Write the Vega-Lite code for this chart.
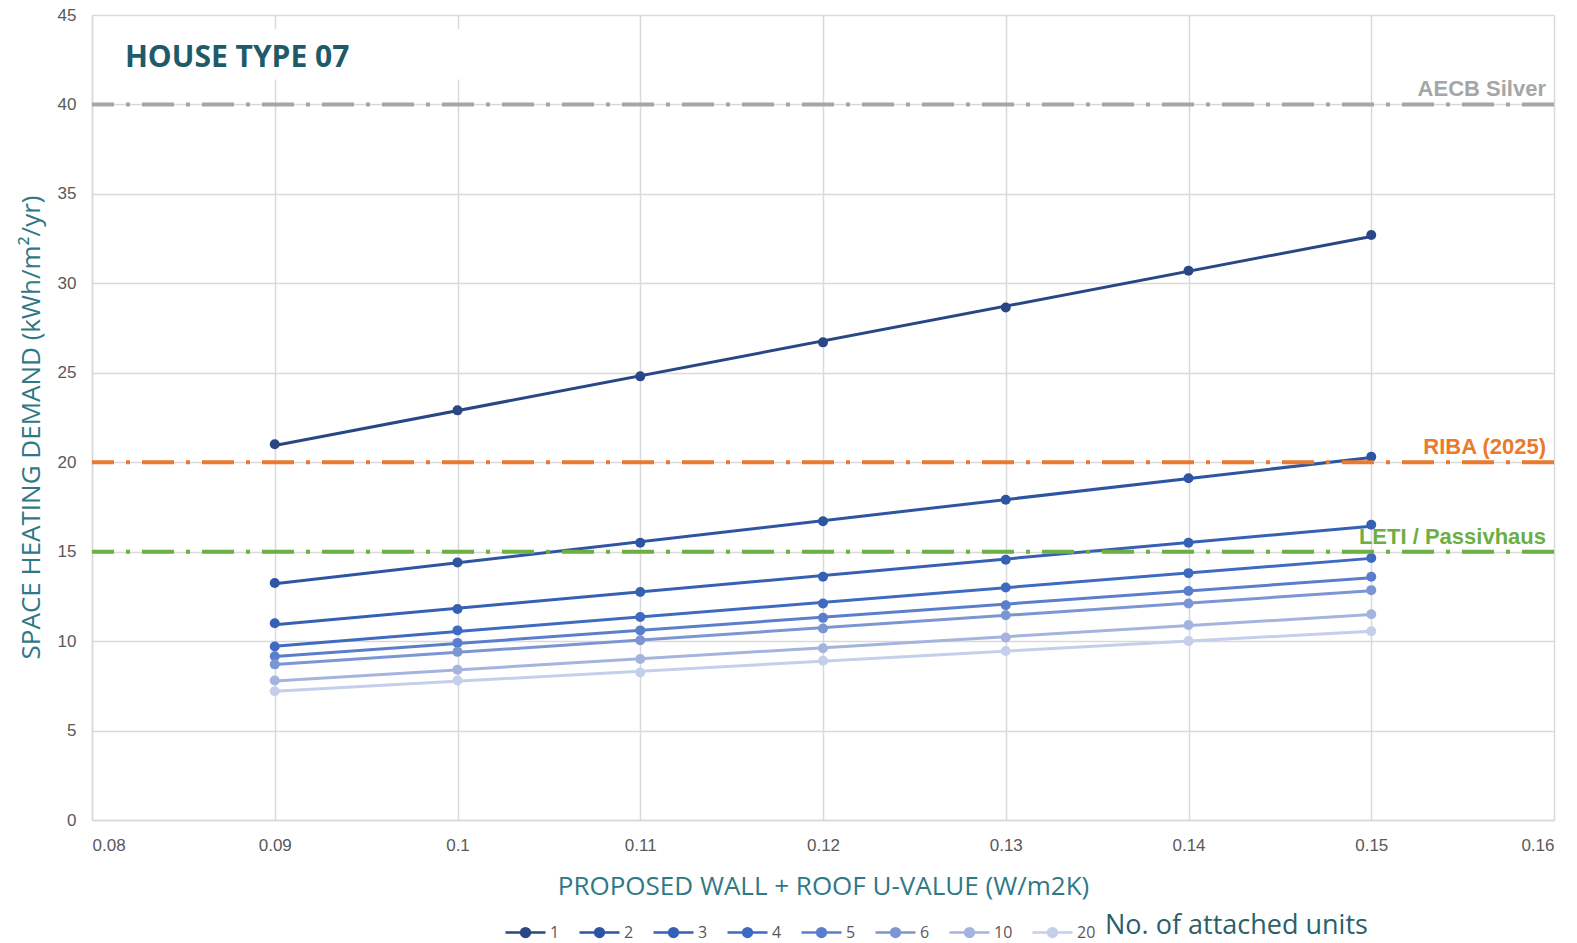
{
  "$schema": "https://vega.github.io/schema/vega-lite/v6.json",
  "width": 1462,
  "height": 805,
  "autosize": {"type": "none"},
  "padding": {"left": 92, "top": 15, "right": 23, "bottom": 123},
  "background": "white",
  "config": {
    "view": {"stroke": null},
    "axis": {
      "grid": true,
      "domainColor": "#D9D9D9",
      "domainWidth": 1.5,
      "gridColor": "#D9D9D9",
      "gridWidth": 1.5,
      "ticks": false,
      "labelFont": "Liberation Sans",
      "labelFontSize": 17,
      "labelColor": "#595959",
      "titleFont": "Open Sans",
      "titleFontSize": 26,
      "titleFontWeight": "normal",
      "titleColor": "#2F7886"
    },
    "axisX": {"grid": true},
    "axisY": {"grid": true}
  },
  "datasets": {
    "series": [
      {"units": "1", "u": 0.09, "demand": 21.0},
      {"units": "1", "u": 0.10, "demand": 22.9},
      {"units": "1", "u": 0.11, "demand": 24.8},
      {"units": "1", "u": 0.12, "demand": 26.7},
      {"units": "1", "u": 0.13, "demand": 28.65},
      {"units": "1", "u": 0.14, "demand": 30.7},
      {"units": "1", "u": 0.15, "demand": 32.7},
      {"units": "2", "u": 0.09, "demand": 13.25},
      {"units": "2", "u": 0.10, "demand": 14.4},
      {"units": "2", "u": 0.11, "demand": 15.5},
      {"units": "2", "u": 0.12, "demand": 16.7},
      {"units": "2", "u": 0.13, "demand": 17.9},
      {"units": "2", "u": 0.14, "demand": 19.1},
      {"units": "2", "u": 0.15, "demand": 20.3},
      {"units": "3", "u": 0.09, "demand": 11.0},
      {"units": "3", "u": 0.10, "demand": 11.8},
      {"units": "3", "u": 0.11, "demand": 12.75},
      {"units": "3", "u": 0.12, "demand": 13.6},
      {"units": "3", "u": 0.13, "demand": 14.55},
      {"units": "3", "u": 0.14, "demand": 15.5},
      {"units": "3", "u": 0.15, "demand": 16.5},
      {"units": "4", "u": 0.09, "demand": 9.7},
      {"units": "4", "u": 0.10, "demand": 10.6},
      {"units": "4", "u": 0.11, "demand": 11.35},
      {"units": "4", "u": 0.12, "demand": 12.1},
      {"units": "4", "u": 0.13, "demand": 13.0},
      {"units": "4", "u": 0.14, "demand": 13.8},
      {"units": "4", "u": 0.15, "demand": 14.65},
      {"units": "5", "u": 0.09, "demand": 9.15},
      {"units": "5", "u": 0.10, "demand": 9.9},
      {"units": "5", "u": 0.11, "demand": 10.6},
      {"units": "5", "u": 0.12, "demand": 11.3},
      {"units": "5", "u": 0.13, "demand": 12.0},
      {"units": "5", "u": 0.14, "demand": 12.8},
      {"units": "5", "u": 0.15, "demand": 13.6},
      {"units": "6", "u": 0.09, "demand": 8.7},
      {"units": "6", "u": 0.10, "demand": 9.4},
      {"units": "6", "u": 0.11, "demand": 10.05},
      {"units": "6", "u": 0.12, "demand": 10.7},
      {"units": "6", "u": 0.13, "demand": 11.45},
      {"units": "6", "u": 0.14, "demand": 12.1},
      {"units": "6", "u": 0.15, "demand": 12.85},
      {"units": "10", "u": 0.09, "demand": 7.8},
      {"units": "10", "u": 0.10, "demand": 8.4},
      {"units": "10", "u": 0.11, "demand": 9.0},
      {"units": "10", "u": 0.12, "demand": 9.6},
      {"units": "10", "u": 0.13, "demand": 10.2},
      {"units": "10", "u": 0.14, "demand": 10.9},
      {"units": "10", "u": 0.15, "demand": 11.5},
      {"units": "20", "u": 0.09, "demand": 7.2},
      {"units": "20", "u": 0.10, "demand": 7.8},
      {"units": "20", "u": 0.11, "demand": 8.25},
      {"units": "20", "u": 0.12, "demand": 8.9},
      {"units": "20", "u": 0.13, "demand": 9.45},
      {"units": "20", "u": 0.14, "demand": 10.0},
      {"units": "20", "u": 0.15, "demand": 10.55}
    ],
    "refs": [
      {"label": "AECB Silver", "value": 40},
      {"label": "RIBA (2025)", "value": 20},
      {"label": "LETI / Passivhaus", "value": 15}
    ]
  },
  "layer": [
    {
      "data": {"name": "series"},
      "mark": {"type": "point", "filled": true, "size": 100, "opacity": 1},
      "encoding": {
        "x": {
          "field": "u", "type": "quantitative",
          "scale": {"domain": [0.08, 0.16], "nice": false, "zero": false},
          "axis": {"grid": true, "values": [0.08, 0.09, 0.1, 0.11, 0.12, 0.13, 0.14, 0.15, 0.16], "format": ".2~f", "labelPadding": 17, "titlePadding": 20, "title": "PROPOSED WALL + ROOF U-VALUE (W/m2K)"}
        },
        "y": {
          "field": "demand", "type": "quantitative",
          "scale": {"domain": [0, 45], "nice": false},
          "axis": {"grid": true, "values": [0, 5, 10, 15, 20, 25, 30, 35, 40, 45], "labelPadding": 16, "titlePadding": 13, "titleY": 412, "title": "SPACE HEATING DEMAND (kWh/m²/yr)"}
        },
        "color": {
          "field": "units", "type": "nominal",
          "scale": {"domain": ["1", "2", "3", "4", "5", "6", "10", "20"],
            "range": ["#2A4785", "#2E55A2", "#3560B3", "#3E6AC0", "#5A7ECB", "#7C95D3", "#A4B4DF", "#C5CEEA"]},
          "legend": {
            "orient": "none", "legendX": 412, "legendY": 896,
            "direction": "horizontal",
            "title": "No. of attached units",
            "titleOrient": "right",
            "titleLimit": 400,
            "titleFont": "Open Sans", "titleFontSize": 27, "titleFontWeight": "normal", "titleColor": "#2B5F6B",
            "titlePadding": 10,
            "labelFont": "Open Sans", "labelFontSize": 16, "labelColor": "#595959", "labelOffset": 3,
            "symbolType": "M-1,0L1,0M-0.22,0A0.22,0.22,0,1,1,0.22,0A0.22,0.22,0,1,1,-0.22,0Z",
            "symbolSize": 1600,
            "symbolStrokeWidth": 2.5,
            "columnPadding": 14,
            "encode": {
              "symbols": {"update": {
                "fill": {"scale": "color", "field": "value"},
                "stroke": {"scale": "color", "field": "value"},
                "opacity": {"value": 1}
              }},
              "title": {"update": {"dy": {"value": 4}}}
            }
          }
        }
      }
    },
    {
      "data": {"name": "series"},
      "transform": [{"regression": "demand", "on": "u", "groupby": ["units"]}],
      "mark": {"type": "line", "strokeWidth": 3},
      "encoding": {
        "x": {"field": "u", "type": "quantitative"},
        "y": {"field": "demand", "type": "quantitative"},
        "color": {"field": "units", "type": "nominal"}
      }
    },
    {
      "data": {"values": [{}]},
      "mark": {"type": "rect", "fill": "white"},
      "encoding": {
        "x": {"datum": 0.0815, "type": "quantitative"},
        "x2": {"datum": 0.1015},
        "y": {"datum": 41.4, "type": "quantitative"},
        "y2": {"datum": 44.2}
      }
    },
    {
      "data": {"name": "refs"},
      "mark": {"type": "rule", "strokeWidth": 4, "strokeDash": [32, 12, 4, 12]},
      "encoding": {
        "y": {"field": "value", "type": "quantitative"},
        "stroke": {"field": "label", "type": "nominal", "legend": null,
          "scale": {"domain": ["AECB Silver", "RIBA (2025)", "LETI / Passivhaus"], "range": ["#A6A6A6", "#E97A2E", "#6DAE45"]}}
      }
    },
    {
      "data": {"name": "refs"},
      "mark": {"type": "text", "align": "right", "baseline": "alphabetic", "dx": -8, "dy": -8, "font": "Liberation Sans", "fontWeight": "bold", "fontSize": 22},
      "encoding": {
        "x": {"datum": 0.16, "type": "quantitative"},
        "y": {"field": "value", "type": "quantitative"},
        "text": {"field": "label"},
        "fill": {"field": "label", "type": "nominal", "legend": null,
          "scale": {"domain": ["AECB Silver", "RIBA (2025)", "LETI / Passivhaus"], "range": ["#A6A6A6", "#E97A2E", "#6DAE45"]}}
      }
    },
    {
      "data": {"values": [{}]},
      "mark": {"type": "text", "align": "left", "baseline": "middle", "font": "Open Sans", "fontWeight": "bold", "fontSize": 30, "fill": "#1E5A68"},
      "encoding": {
        "x": {"datum": 0.0818, "type": "quantitative"},
        "y": {"datum": 42.6, "type": "quantitative"},
        "text": {"value": "HOUSE TYPE 07"}
      }
    }
  ]
}
